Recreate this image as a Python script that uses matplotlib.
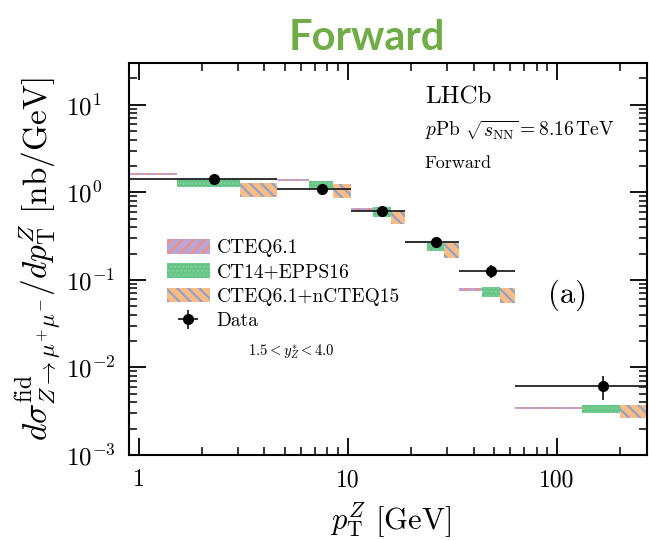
import numpy as np
import matplotlib
matplotlib.use("Agg")
import matplotlib.pyplot as plt

# pT bins [GeV] and measured cross-section [nb/GeV]
bin_edges = [0.0, 4.6, 10.4, 18.9, 34.0, 63.0, 270.0]
data_y = [1.43, 1.09, 0.61, 0.273, 0.126, 0.0061]
data_err = [0.06, 0.05, 0.07, 0.036, 0.02, 0.0019]

# theory predictions, band lower / upper edge per bin
cteq61_lo = [1.57, 1.35, 0.62, 0.264, 0.0755, 0.00335]
cteq61_hi = [1.67, 1.42, 0.66, 0.280, 0.0805, 0.00357]
epps16_lo = [1.14, 1.09, 0.52, 0.214, 0.064, 0.00303]
epps16_hi = [1.43, 1.36, 0.68, 0.266, 0.082, 0.00377]
ncteq15_lo = [0.88, 0.86, 0.44, 0.180, 0.054, 0.00266]
ncteq15_hi = [1.28, 1.26, 0.62, 0.261, 0.080, 0.00377]

x_ticks = [1, 10, 100]
x_ticklabels = ['1', '10', '100']
y_ticks = [1e-3, 1e-2, 1e-1, 1e0, 1e1]
y_ticklabels = [r'$10^{-3}$', r'$10^{-2}$', r'$10^{-1}$', r'$10^{0}$', r'$10^{1}$']

plt.rcParams.update({
    'font.family': 'serif',
    'font.serif': ['cmr10', 'DejaVu Serif'],
    'mathtext.fontset': 'cm',
    'axes.formatter.use_mathtext': True,
    'hatch.linewidth': 1.6,
})

fig = plt.figure(figsize=(6.49, 5.40), dpi=100)
ax = fig.add_axes([129 / 649, 1 - 455 / 540, 518 / 649, 392 / 540])

edges = np.array(bin_edges)
lo_e, hi_e = edges[:-1], edges[1:]
third = (hi_e - lo_e) / 3.0
centers = (lo_e + hi_e) / 2.0

models = [
    ('CTEQ6.1', cteq61_lo, cteq61_hi, '#b9a4d8', '#f28f7c', '///'),
    ('CT14+EPPS16', epps16_lo, epps16_hi, '#62c384', '#7fd29c', '....'),
    ('CTEQ6.1+nCTEQ15', ncteq15_lo, ncteq15_hi, '#fbbd85', '#93a2c6', '\\\\\\'),
]
handles = []
for i, (name, lo, hi, face, hcol, hatch) in enumerate(models):
    lo = np.array(lo)
    hi = np.array(hi)
    b = ax.bar(lo_e + i * third, hi - lo, width=third, bottom=lo, align='edge',
               facecolor=face, edgecolor=hcol, hatch=hatch, linewidth=0,
               label=name, zorder=2)
    handles.append(b)

eb = ax.errorbar(centers, data_y, xerr=[centers - lo_e, hi_e - centers], yerr=data_err,
                 fmt='o', color='black', ecolor='#222222', ms=7, elinewidth=1.3,
                 capsize=0, label='Data', zorder=3)
handles.append(eb)

ax.set_xscale('log')
ax.set_yscale('log')
ax.set_xlim(0.9, 270)
ax.set_ylim(1e-3, 30)
ax.set_xticks(x_ticks, labels=x_ticklabels)
ax.set_yticks(y_ticks, labels=y_ticklabels)
ax.tick_params(which='both', direction='in', top=True, right=True)
ax.tick_params(which='major', length=12, width=1.3)
ax.tick_params(which='minor', length=6, width=1.1)
ax.tick_params(axis='x', which='major', pad=10, labelsize=17)
ax.tick_params(axis='y', which='major', pad=45, labelsize=18)
for lbl in ax.get_yticklabels():
    lbl.set_horizontalalignment('left')
for s in ax.spines.values():
    s.set_linewidth(1.5)

ax.set_xlabel(r'$p_{\rm T}^{Z}$ [GeV]', fontsize=22)
ax.set_ylabel(r'$d\sigma^{\rm fid}_{Z\to\mu^{+}\mu^{-}}/dp_{\rm T}^{Z}$ [nb/GeV]', fontsize=24)
ax.xaxis.set_label_coords(0.504, -0.115)
ax.yaxis.set_label_coords(-0.125, 0.5)

ax.text(0.571, 0.913, 'LHCb', transform=ax.transAxes, fontsize=18, va='center')
ax.text(0.571, 0.829, r'$p$Pb $\sqrt{s_{\rm NN}}=8.16\,$TeV', transform=ax.transAxes,
        fontsize=14, va='center')
ax.text(0.571, 0.745, 'Forward', transform=ax.transAxes, fontsize=13, va='center')
ax.text(0.809, 0.408, '(a)', transform=ax.transAxes, fontsize=22, va='center')
ax.text(0.23, 0.263, r'$1.5 < y^{*}_{Z} < 4.0$', transform=ax.transAxes, fontsize=10.5,
        va='center')

ax.legend(handles=handles, loc='upper left', bbox_to_anchor=(0.073, 0.551),
          frameon=False, fontsize=14, handlelength=2.2, handleheight=0.77,
          handletextpad=0.36, labelspacing=0.33, borderaxespad=0, borderpad=0)

fig.text(367 / 649, 1 - 50 / 540, 'Forward', ha='center', va='baseline',
         fontsize=30, fontweight='bold', color='#70ad47', family='Lato')

fig.savefig('out.png', dpi=100)
